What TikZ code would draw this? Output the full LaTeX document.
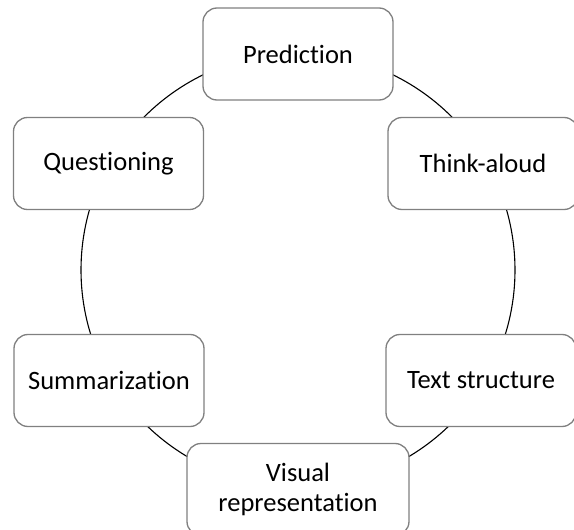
\documentclass[tikz,border=0pt]{standalone}
\usepackage{fontspec}
\setmainfont{Carlito}[Ligatures=NoCommon]
\begin{document}
\begin{tikzpicture}[x=1pt,y=-1pt,
		caja/.style={draw=black!50, line width=1.3pt, rounded corners=14pt, fill=white,
			minimum width=190pt, minimum height=92pt, align=center,
			font=\fontsize{26.5}{30}\selectfont}]
		% Marco de la figura
		\clip (0,0) rectangle (574,530);
		
		% Ciclo de fondo
		\draw[black, line width=1.1pt] (298,270) circle (217pt);
		
		% Estrategias alrededor del ciclo
		\node[caja] (pred) at (298,54) {Prediction};
		\node[caja] (think) at (483,163.5) {Think-aloud};
		\node[caja] (texto) at (481,380.5) {Text structure};
		\node[caja, minimum width=222pt] (visual) at (298,489.5) {Visual\\representation};
		\node[caja] (resumen) at (109,380.5) {Summarization};
		\node[caja] (preg) at (108.5,163.5) {Questioning};
	\end{tikzpicture}
\end{document}
